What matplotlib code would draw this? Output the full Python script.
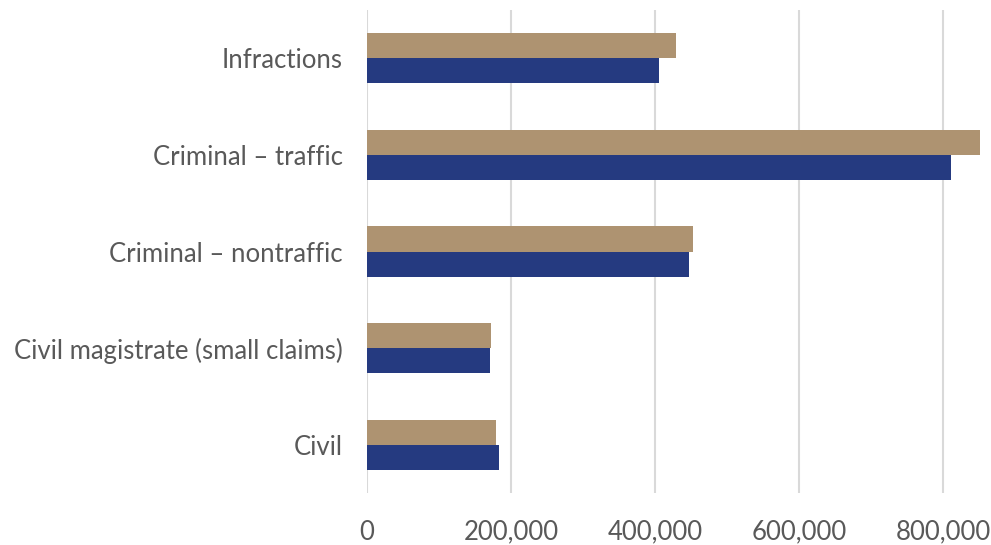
import matplotlib
matplotlib.use("Agg")
from matplotlib import pyplot as plt
import numpy as np

categories = ["Civil", "Civil magistrate (small claims)", "Criminal \u2013 nontraffic",
              "Criminal \u2013 traffic", "Infractions"]
tan_values = [179000, 173000, 452000, 851000, 429000]
blue_values = [184000, 171000, 447000, 811000, 406000]
xticks = [0, 200000, 400000, 600000, 800000]

plt.rcParams['font.family'] = ['Lato', 'DejaVu Sans']

fig = plt.figure(figsize=(9.91, 5.45), dpi=100)
ax = fig.add_axes([0.370, 0.095, 0.630, 0.887])

y = np.arange(len(categories))
h = 0.26
ax.barh(y + h / 2, tan_values, height=h, color="#AE9371", zorder=3)
ax.barh(y - h / 2, blue_values, height=h, color="#253A80", zorder=3)

ax.set_xlim(0, 866000)
ax.set_ylim(-0.5, 4.5)
ax.set_xticks(xticks)
ax.set_xticklabels([f"{v:,}" for v in xticks])
ax.set_yticks(y)
ax.set_yticklabels(categories)
ax.tick_params(length=0, labelsize=18.5, colors="#595959")
ax.tick_params(axis="x", pad=19)
ax.tick_params(axis="y", pad=17)
ax.grid(axis="x", color="#D9D9D9", linewidth=1.5, zorder=0)
for s in ax.spines.values():
    s.set_visible(False)

fig.savefig("out.png", dpi=100)
